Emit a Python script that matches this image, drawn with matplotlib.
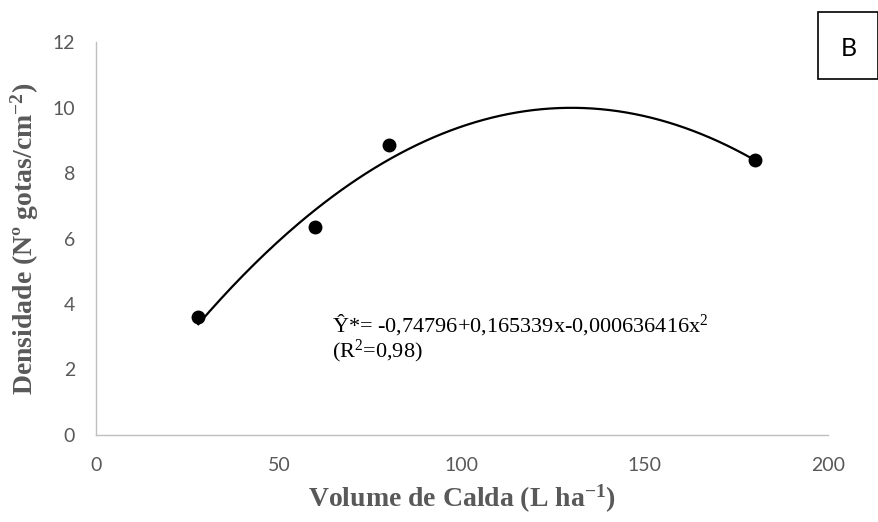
import numpy as np
import matplotlib.pyplot as plt
from matplotlib.patches import Rectangle

plt.rcParams['mathtext.fontset'] = 'custom'
plt.rcParams['mathtext.rm'] = 'Liberation Serif'
plt.rcParams['mathtext.bf'] = 'Liberation Serif:bold'
plt.rcParams['mathtext.it'] = 'Liberation Serif:italic'

# Observed droplet density per spray volume
volume = [28, 60, 80, 180]
densidade = [3.6, 6.35, 8.85, 8.4]

# Quadratic fit coefficients
b0, b1, b2 = -0.74796, 0.165339, -0.000636416

x_ticks = [0, 50, 100, 150, 200]
y_ticks = [0, 2, 4, 6, 8, 10, 12]

gray = '#595959'

fig = plt.figure(figsize=(8.79, 5.22), dpi=100)
ax = fig.add_axes([0.109, 0.1667, 0.833, 0.7528])

# Fitted curve over the observed range
xf = np.linspace(min(volume), max(volume), 200)
yf = b0 + b1 * xf + b2 * xf ** 2
ax.plot(xf, yf, color='black', lw=1.6)
ax.plot(volume, densidade, 'o', color='black', ms=9)

ax.set_xlim(0, 200)
ax.set_ylim(0, 12)
ax.set_xticks(x_ticks)
ax.set_yticks(y_ticks)
ax.tick_params(length=0, labelsize=14, labelcolor=gray)
ax.tick_params(axis='x', pad=16)
ax.tick_params(axis='y', pad=15)
for lab in ax.get_xticklabels() + ax.get_yticklabels():
    lab.set_fontfamily('Lato')

for s in ['top', 'right']:
    ax.spines[s].set_visible(False)
for s in ['left', 'bottom']:
    ax.spines[s].set_color('#bfbfbf')
    ax.spines[s].set_linewidth(1)

ax.set_xlabel('Volume de Calda (L ha$^{\\mathbf{-1}}$)', fontsize=20,
              fontweight='bold', family='Liberation Serif', color=gray, labelpad=6)
ax.set_ylabel('Densidade (Nº gotas/cm$^{\\mathbf{-2}}$)', fontsize=20,
              fontweight='bold', family='Liberation Serif', color=gray, labelpad=8)

# Regression equation, two lines in one block
eq = ('Ŷ*= -0,74796+0,165339x-0,000636416x$^{\\mathrm{2}}$\n'
      '(R$^{\\mathrm{2}}$=0,98)')
ax.text(64.5, 3.75, eq, fontsize=16, family='Liberation Serif',
        va='top', linespacing=1.05)

# Panel letter box
fig.patches.append(Rectangle((818 / 879, 1 - 79 / 522), 60 / 879, 67 / 522,
                             transform=fig.transFigure, fill=False,
                             edgecolor='black', lw=1.2))
fig.text(849 / 879, 1 - 48 / 522, 'B', fontsize=18, family='Lato',
         ha='center', va='center')

fig.savefig('out.png', dpi=100)
